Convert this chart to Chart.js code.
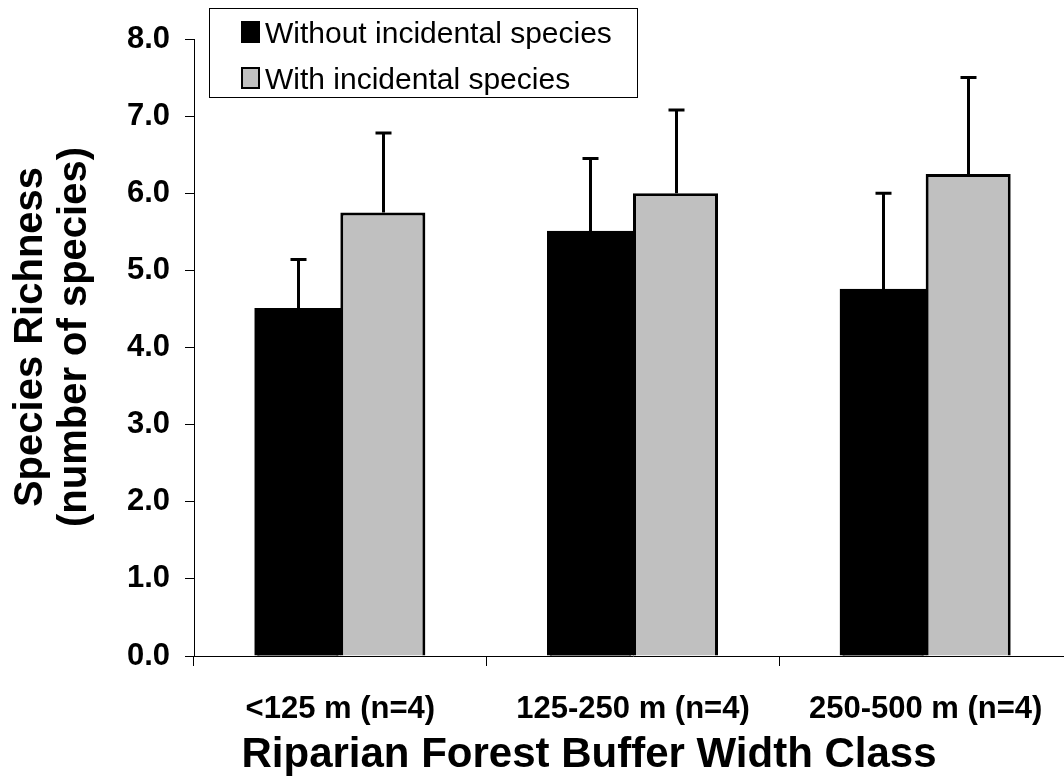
<!DOCTYPE html>
<html>
<head>
<meta charset="utf-8">
<script src="https://cdn.jsdelivr.net/npm/chart.js@4/dist/chart.umd.min.js"></script>
<style>
  html, body { margin: 0; padding: 0; overflow: hidden; background: #fff; }
  canvas { display: block; }
</style>
</head>
<body>
<canvas id="chart" width="1090" height="778"></canvas>
<script>
// Mean species richness by riparian buffer width class, with upper standard-error bars
const categories = ['<125 m (n=4)', '125-250 m (n=4)', '250-500 m (n=4)'];
const seriesNames = ['Without incidental species', 'With incidental species'];
const withoutIncidental = [4.5, 5.5, 4.75];
const withoutIncidentalErr = [0.64, 0.95, 1.25];
const withIncidental = [5.75, 6.0, 6.25];
const withIncidentalErr = [1.03, 1.08, 1.25];
const yTickLabels = ['0.0', '1.0', '2.0', '3.0', '4.0', '5.0', '6.0', '7.0', '8.0'];
const xTitle = 'Riparian Forest Buffer Width Class';
const yTitle = ['Species Richness', '(number of species)'];

const FONT = '"Liberation Sans", Arial, Helvetica, sans-serif';
const seriesColors = ['#000000', '#C0C0C0'];

// Upper error bars with a short cap
const errorBars = {
  id: 'errorBars',
  afterDatasetsDraw(chart) {
    const ctx = chart.ctx;
    const y = chart.scales.y;
    ctx.save();
    ctx.strokeStyle = '#000';
    ctx.lineWidth = 3;
    chart.data.datasets.forEach((ds, di) => {
      const meta = chart.getDatasetMeta(di);
      meta.data.forEach((bar, i) => {
        const top = y.getPixelForValue(ds.data[i] + ds.errors[i]);
        const x = Math.round(bar.x) + 0.5;
        ctx.beginPath();
        ctx.moveTo(x, bar.y);
        ctx.lineTo(x, top);
        ctx.moveTo(x - 8, top);
        ctx.lineTo(x + 8, top);
        ctx.stroke();
      });
    });
    ctx.restore();
  }
};

// Boxed legend in the upper left and the two axis titles
const annotations = {
  id: 'annotations',
  afterDraw(chart) {
    const ctx = chart.ctx;
    ctx.save();
    // legend box
    ctx.strokeStyle = '#000';
    ctx.lineWidth = 1;
    ctx.fillStyle = '#fff';
    ctx.fillRect(209.5, 8.5, 428, 89);
    ctx.strokeRect(209.5, 8.5, 428, 89);
    ctx.font = '30px ' + FONT;
    ctx.textBaseline = 'alphabetic';
    ctx.textAlign = 'left';
    chart.data.datasets.forEach((ds, i) => {
      const cy = 32 + i * 46;
      ctx.fillStyle = ds.backgroundColor;
      ctx.fillRect(242, cy - 10, 17, 20);
      ctx.lineWidth = 2;
      ctx.strokeRect(242, cy - 10, 17, 20);
      ctx.fillStyle = '#000';
      ctx.fillText(ds.label, 265, cy + 11);
    });
    // x-axis title
    ctx.fillStyle = '#000';
    ctx.font = 'bold 42px ' + FONT;
    ctx.textAlign = 'center';
    ctx.fillText(xTitle, 589, 767);
    // y-axis title, two rotated lines
    ctx.font = 'bold 40px ' + FONT;
    const baselines = [42, 86];
    yTitle.forEach((line, i) => {
      ctx.save();
      ctx.translate(baselines[i], 337);
      ctx.rotate(-Math.PI / 2);
      ctx.fillText(line, 0, 0);
      ctx.restore();
    });
    ctx.restore();
  }
};

new Chart(document.getElementById('chart'), {
  type: 'bar',
  data: {
    labels: categories,
    datasets: [
      {
        label: seriesNames[0],
        data: withoutIncidental,
        errors: withoutIncidentalErr,
        backgroundColor: seriesColors[0],
        borderColor: '#000',
        borderWidth: 3,
        inflateAmount: 1
      },
      {
        label: seriesNames[1],
        data: withIncidental,
        errors: withIncidentalErr,
        backgroundColor: seriesColors[1],
        borderColor: '#000',
        borderWidth: 3,
        inflateAmount: 0
      }
    ]
  },
  options: {
    responsive: false,
    animation: false,
    events: [],
    categoryPercentage: 0.581,
    barPercentage: 1.0,
    layout: { padding: { left: 100, top: 39, right: 18, bottom: 0 } },
    plugins: {
      legend: { display: false },
      tooltip: { enabled: false }
    },
    scales: {
      x: {
        offset: true,
        grid: {
          offset: true,
          drawOnChartArea: false,
          drawTicks: true,
          tickLength: 10,
          color: '#000',
          lineWidth: 1
        },
        border: { display: true, color: '#000', width: 1 },
        ticks: {
          color: '#000',
          padding: 25,
          maxRotation: 0,
          autoSkip: false,
          font: { family: FONT, size: 31, weight: 'bold' }
        },
        afterFit(scale) { scale.height = 122; }
      },
      y: {
        min: 0,
        max: 8,
        grid: {
          drawOnChartArea: false,
          drawTicks: true,
          tickLength: 9,
          color: '#000',
          lineWidth: 1
        },
        border: { display: true, color: '#000', width: 1 },
        ticks: {
          stepSize: 1,
          color: '#000',
          padding: 15,
          font: { family: FONT, size: 31, weight: 'bold' },
          callback: (v) => yTickLabels[v]
        },
        afterFit(scale) { scale.width = 94; }
      }
    }
  },
  plugins: [errorBars, annotations]
});
</script>
</body>
</html>
